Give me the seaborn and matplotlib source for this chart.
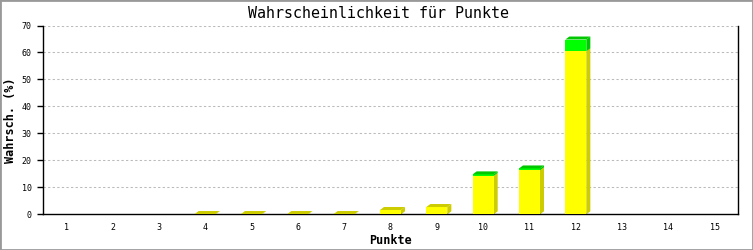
import matplotlib
matplotlib.use("Agg")
import matplotlib.pyplot as plt
import seaborn as sns
import pandas as pd
import numpy as np
from matplotlib.patches import Polygon, Rectangle

punkte = list(range(1, 16))
gelb = [0, 0, 0, 0.1, 0.1, 0.1, 0.1, 1.6, 2.7, 14.2, 16.3, 60.4, 0, 0, 0]
gruen = [0, 0, 0, 0, 0, 0, 0, 0, 0, 0.6, 0.7, 4.4, 0, 0, 0]
yticks = [0, 10, 20, 30, 40, 50, 60, 70]

sns.set_style("white")
plt.rcParams['font.family'] = ['DejaVu Sans Mono', 'DejaVu Sans']
plt.rcParams['text.color'] = 'black'
plt.rcParams['axes.labelcolor'] = 'black'
plt.rcParams['xtick.color'] = 'black'
plt.rcParams['ytick.color'] = 'black'

W, H = 753, 250
fig = plt.figure(figsize=(W / 100, H / 100), dpi=100)
fig.patch.set_facecolor("white")
ax = fig.add_axes([43 / W, 1 - 214.3 / H, (738 - 43) / W, (214.3 - 25.5) / H])

df = pd.DataFrame({"Punkte": punkte, "gelb": gelb, "gruen": gruen})
df["gesamt"] = df["gelb"] + df["gruen"]

bw = 21 / ((738 - 43) / 15)
sns.barplot(data=df, x="Punkte", y="gesamt", color="#00ff00", width=bw,
            saturation=1, ax=ax, linewidth=0, zorder=3)
sns.barplot(data=df, x="Punkte", y="gelb", color="#ffff00", width=bw,
            saturation=1, ax=ax, linewidth=0, zorder=4)

ax.set_xlim(-0.5, 14.5)
ax.set_ylim(0, 70)

# 3D depth in data units
px_x = ((738 - 43) / 15)
px_y = ((214.3 - 25.5) / 70)
dx = 4 / px_x
dy = 3 / px_y

dark_y = "#cccc00"
dark_g = "#00c800"
for i, (g, gr) in enumerate(zip(gelb, gruen)):
    tot = g + gr
    if tot <= 0:
        continue
    x0 = i - bw / 2
    x1 = i + bw / 2
    if g > 0:
        ax.add_patch(Polygon([(x1, 0), (x1, g), (x1 + dx, g + dy), (x1 + dx, dy)],
                             closed=True, facecolor=dark_y, edgecolor="none", zorder=2))
    if gr > 0:
        ax.add_patch(Polygon([(x1, g), (x1, tot), (x1 + dx, tot + dy), (x1 + dx, g + dy)],
                             closed=True, facecolor=dark_g, edgecolor="none", zorder=2))
        top_c = dark_g
    else:
        top_c = dark_y
    ax.add_patch(Polygon([(x0, tot), (x1, tot), (x1 + dx, tot + dy), (x0 + dx, tot + dy)],
                         closed=True, facecolor=top_c, edgecolor="none", zorder=5))

# grid
for yv in yticks[1:]:
    ax.axhline(yv, color="#bbbbbb", lw=0.75, linestyle=(0, (2.2, 2.2)), zorder=1)

for s in ["left", "bottom", "right"]:
    ax.spines[s].set_visible(True)
    ax.spines[s].set_color("black")
    ax.spines[s].set_linewidth(1.0)
ax.spines["top"].set_visible(False)

ax.set_yticks(yticks)
ax.set_yticklabels([str(v) for v in yticks], fontsize=6)
ax.set_xticks(range(15))
ax.set_xticklabels([str(p) for p in punkte], fontsize=6)
ax.tick_params(axis="y", direction="out", length=4, width=1, color="black", pad=4, left=True)
ax.tick_params(axis="x", length=0, pad=6)

ax.set_xlabel("Punkte", fontsize=8.5, fontweight="bold", labelpad=2)
ax.set_ylabel("")
fig.text(11 / W, 1 - 120 / H, "Wahrsch. (%)", rotation=90, ha="center", va="center",
         fontsize=8.5, fontweight="bold")
fig.text(378 / W, 1 - 13 / H, "Wahrscheinlichkeit für Punkte", ha="center", va="center",
         fontsize=10.8)

fig.patches.append(Rectangle((0, 0), 1, 1, transform=fig.transFigure, fill=False,
                             edgecolor="#999999", linewidth=2.0))

fig.savefig("out.png", dpi=100)
